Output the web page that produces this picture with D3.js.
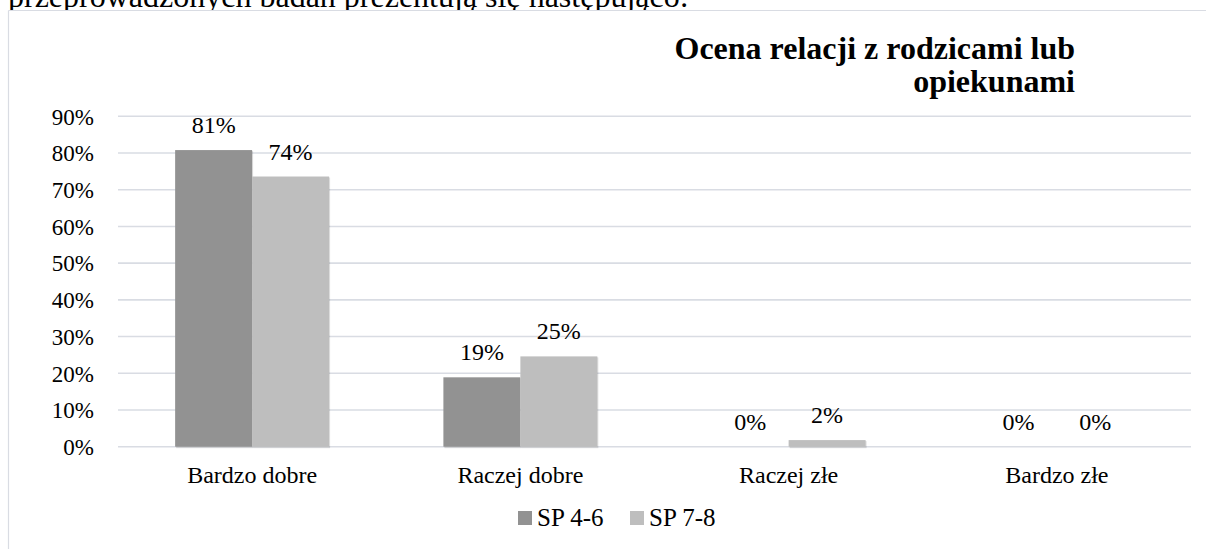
<!DOCTYPE html>
<html>
<head>
<meta charset="utf-8">
<script src="https://cdn.jsdelivr.net/npm/d3@7"></script>
</head>
<body style="margin:0;padding:0;background:#fff">
<script>
const categories = ["Bardzo dobre", "Raczej dobre", "Raczej złe", "Bardzo złe"];
const seriesNames = ["SP 4-6", "SP 7-8"];
const sp46 = [0.808, 0.189, 0.0, 0.0];
const sp78 = [0.736, 0.246, 0.018, 0.0];
const yTicks = [0, 0.1, 0.2, 0.3, 0.4, 0.5, 0.6, 0.7, 0.8, 0.9];
const colors = ["#929292", "#bebebe"];
const titleLines = ["Ocena relacji z rodzicami lub", "opiekunami"];
const docText = "przeprowadzonych badań prezentują się następująco:";

const W = 1206, H = 549;
const FAM = '"Liberation Serif"';
function serif(sel, size, weight) {
  return sel.style("font-family", FAM).attr("font-size", size)
    .attr("font-weight", weight || "normal").attr("fill", "#000");
}
const svg = d3.select("body").append("svg").attr("width", W).attr("height", H).style("display", "block");

// document text line above the chart (cut off at the top, as in the source)
serif(svg.append("text").attr("x", 8).attr("y", 7), 32).text(docText);

// chart frame
svg.append("rect").attr("x", 0).attr("y", 10.5).attr("width", W).attr("height", H).attr("fill", "#fff");
svg.append("line").attr("x1", 8.5).attr("x2", W).attr("y1", 10.5).attr("y2", 10.5).attr("stroke", "#d9dce3").attr("stroke-width", 1.2);
svg.append("line").attr("x1", 8.5).attr("x2", 8.5).attr("y1", 10.5).attr("y2", H).attr("stroke", "#d9dce3").attr("stroke-width", 1.2);

const x0 = d3.scaleBand().domain(categories).range([118, 1191]).paddingInner(0.426).paddingOuter(0.213);
const x1 = d3.scaleBand().domain(seriesNames).range([0, x0.bandwidth()]);
const y = d3.scaleLinear().domain([0, 0.9]).range([446.7, 116.3]);
const fmt = d3.format(".0%");

// gridlines
svg.append("g").selectAll("line").data(yTicks).join("line")
  .attr("x1", 118).attr("x2", 1191)
  .attr("y1", d => y(d)).attr("y2", d => y(d))
  .attr("stroke", "#d9dce3").attr("stroke-width", 1.6);

// y axis labels
serif(svg.append("g").selectAll("text").data(yTicks).join("text"), 23)
  .attr("x", 94).attr("y", d => y(d)).attr("dy", "0.36em").attr("text-anchor", "end")
  .text(d => fmt(d));

// x axis labels
serif(svg.append("g").selectAll("text").data(categories).join("text"), 24)
  .attr("x", d => x0(d) + x0.bandwidth() / 2).attr("y", 483).attr("text-anchor", "middle")
  .text(d => d);

const series = [sp46, sp78];
const data = [];
categories.forEach((c, i) => series.forEach((s, j) => data.push({c, name: seriesNames[j], v: s[i], j})));

// soft shadow under bars
svg.append("g").selectAll("rect").data(data.filter(d => d.v > 0)).join("rect")
  .attr("x", d => x0(d.c) + x1(d.name) + 1)
  .attr("y", d => y(d.v) + 1)
  .attr("width", x1.bandwidth())
  .attr("height", d => y(0) - y(d.v) + 0.5)
  .attr("fill", "#000").attr("opacity", 0.12);

svg.append("g").selectAll("rect").data(data).join("rect")
  .attr("x", d => x0(d.c) + x1(d.name))
  .attr("y", d => y(d.v))
  .attr("width", x1.bandwidth())
  .attr("height", d => y(0) - y(d.v))
  .attr("fill", d => colors[d.j]);

serif(svg.append("g").selectAll("text").data(data).join("text"), 24)
  .attr("x", d => x0(d.c) + x1(d.name) + x1.bandwidth() / 2)
  .attr("y", d => y(d.v) - 17)
  .attr("text-anchor", "middle")
  .text(d => fmt(Math.round(d.v * 100) / 100));

// title
const title = serif(svg.append("text"), 32, "bold").attr("text-anchor", "end");
titleLines.forEach((t, i) => title.append("tspan").attr("x", 1075).attr("y", 59 + i * 33).text(t));

// legend
const legX = [518, 630];
seriesNames.forEach((n, i) => {
  svg.append("rect").attr("x", legX[i]).attr("y", 511).attr("width", 14).attr("height", 14).attr("fill", colors[i]);
  serif(svg.append("text"), 25).attr("x", legX[i] + 19).attr("y", 526).text(n);
});
</script>
</body>
</html>
